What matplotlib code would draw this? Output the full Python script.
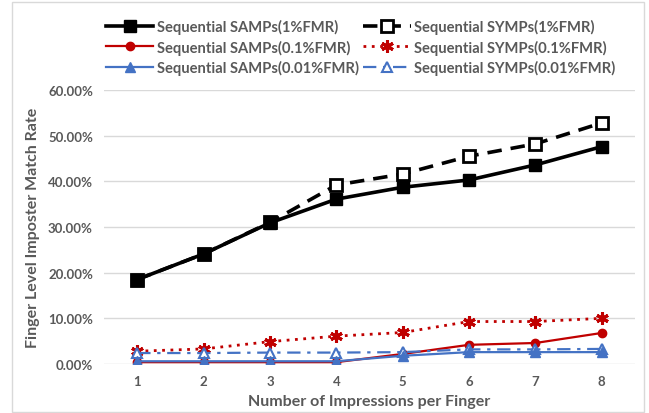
import matplotlib
matplotlib.use("Agg")
import matplotlib.pyplot as plt
from matplotlib.patches import Rectangle
from matplotlib.ticker import FuncFormatter

impressions = [1, 2, 3, 4, 5, 6, 7, 8]
samps_1 = [18.5, 24.1, 30.9, 36.1, 38.7, 40.3, 43.6, 47.6]
symps_1 = [18.5, 24.1, 31.0, 39.2, 41.6, 45.5, 48.2, 52.8]
samps_01 = [0.4, 0.4, 0.4, 0.4, 2.2, 4.2, 4.6, 6.8]
symps_01 = [2.8, 3.3, 4.9, 6.1, 6.9, 9.3, 9.3, 10.0]
samps_001 = [0.6, 0.6, 0.6, 0.6, 1.8, 2.6, 2.6, 2.6]
symps_001 = [2.4, 2.4, 2.5, 2.5, 2.6, 3.2, 3.2, 3.3]

labels = ["Sequential SAMPs(1%FMR)", "Sequential SAMPs(0.1%FMR)", "Sequential SAMPs(0.01%FMR)",
          "Sequential SYMPs(1%FMR)", "Sequential SYMPs(0.1%FMR)", "Sequential SYMPs(0.01%FMR)"]
yticks = [0, 10, 20, 30, 40, 50, 60]

plt.rcParams['font.family'] = ['Lato', 'DejaVu Sans']
gray = '#595959'
black = '#000000'
red = '#c00000'
blue = '#4472c4'

fig = plt.figure(figsize=(6.49, 4.14), dpi=100)
ax = fig.add_axes([104/649, 1-365/414, (635-104)/649, (365-91)/414])

l1, = ax.plot(impressions, samps_1, color=black, lw=2.6, marker='s', ms=9, mfc=black, mec=black, zorder=5)
l4, = ax.plot(impressions, symps_1, color=black, lw=2.6, ls=(0, (4, 2.5)), marker='s', ms=8,
              mfc='white', mec=black, mew=2, zorder=4)
l2, = ax.plot(impressions, samps_01, color=red, lw=1.6, marker='o', ms=6, mfc=red, mec=red, zorder=3)
l5, = ax.plot(impressions, symps_01, color=red, lw=2, ls=(0, (1, 2)), marker=(6, 2, 0), ms=9,
              mec=red, mew=2.2, zorder=3)
l6, = ax.plot(impressions, symps_001, color=blue, lw=1.6, ls=(0, (6, 3, 1.5, 3)), marker='^', ms=7,
              mfc='white', mec=blue, mew=1.5, zorder=3)
l3, = ax.plot(impressions, samps_001, color=blue, lw=1.6, marker='^', ms=7, mfc=blue, mec=blue, zorder=4)

ax.set_xlim(0.5, 8.5)
ax.set_ylim(0, 60)
ax.set_yticks(yticks)
ax.yaxis.set_major_formatter(FuncFormatter(lambda v, p: f"{v:.2f}%"))
ax.set_xticks(impressions)
ax.grid(axis='y', color='#d9d9d9', lw=1)
ax.set_axisbelow(True)
for s in ax.spines.values():
    s.set_visible(False)
ax.tick_params(length=0, colors=gray, labelsize=9.5, pad=8)
for t in ax.get_xticklabels() + ax.get_yticklabels():
    t.set_fontweight('bold')
ax.set_xlabel("Number of Impressions per Finger", fontsize=11.5, fontweight='bold', color=gray, labelpad=5)
ax.set_ylabel("Finger Level Imposter Match Rate", fontsize=11.5, fontweight='bold', color=gray, labelpad=6)

leg = fig.legend([l1, l2, l3, l4, l5, l6], labels, ncol=2, loc='upper left',
                 bbox_to_anchor=(93/649, 1-7/414), frameon=False, handlelength=3.2,
                 handletextpad=0.25, columnspacing=0.3, labelspacing=0.35,
                 prop={'weight': 'bold', 'size': 10.6})
for t in leg.get_texts():
    t.set_color(gray)

fig.patches.append(Rectangle((12/649, 1/414), (644-12)/649, (411-1)/414, transform=fig.transFigure,
                             fill=False, edgecolor='#d9d9d9', lw=1))

fig.savefig("out.png", dpi=100)
